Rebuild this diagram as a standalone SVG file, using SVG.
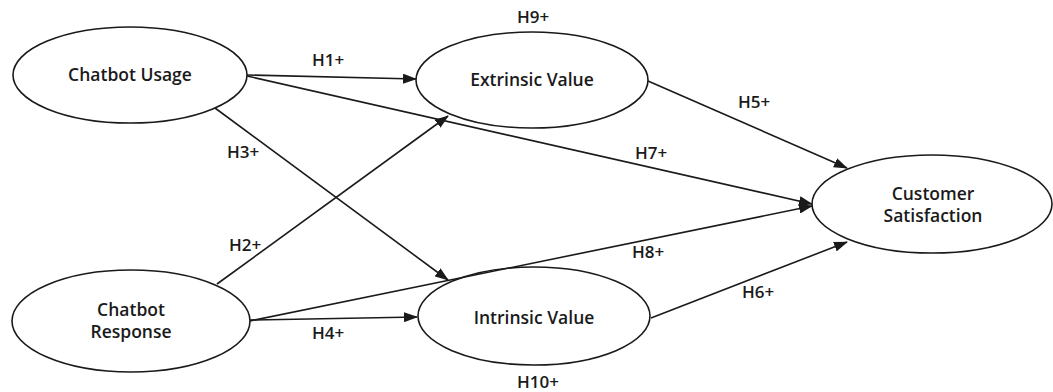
<svg xmlns="http://www.w3.org/2000/svg" width="1053" height="392" viewBox="0 0 1053 392">
<defs>
<style>
.node ellipse{fill:#fff;stroke:#1a1a1a;stroke-width:1.6}
.node text{font-family:"Open Sans","Liberation Sans",sans-serif;font-size:17.5px;font-weight:600;fill:#1a1a1a;text-anchor:middle}
.conn line{stroke:#1a1a1a;stroke-width:1.6;marker-end:url(#arr)}
.lbl text{font-family:"Open Sans","Liberation Sans",sans-serif;font-size:17px;font-weight:600;fill:#1a1a1a;text-anchor:middle}
</style>
<marker id="arr" markerUnits="userSpaceOnUse" markerWidth="14" markerHeight="10" refX="13" refY="5" orient="auto" viewBox="0 0 14 10">
<path d="M0,0 L14,5 L0,10 z" fill="#1a1a1a"/>
</marker>
</defs>
<rect width="1053" height="392" fill="#fff"/>
<g class="node" id="chatbot-usage">
<ellipse cx="130" cy="75" rx="117" ry="48"/>
<text x="130" y="81">Chatbot Usage</text>
</g>
<g class="node" id="extrinsic-value">
<ellipse cx="532" cy="80" rx="116" ry="48"/>
<text x="532" y="86">Extrinsic Value</text>
</g>
<g class="node" id="customer-satisfaction">
<ellipse cx="932" cy="204" rx="120" ry="49"/>
<text x="933" y="200">Customer</text>
<text x="933" y="222">Satisfaction</text>
</g>
<g class="node" id="chatbot-response">
<ellipse cx="131" cy="321" rx="119" ry="51"/>
<text x="131" y="316">Chatbot</text>
<text x="131" y="338">Response</text>
</g>
<g class="node" id="intrinsic-value">
<ellipse cx="534" cy="316" rx="116" ry="49"/>
<text x="534" y="324">Intrinsic Value</text>
</g>
<g class="conn" id="connectors">
<line x1="247" y1="75" x2="416" y2="79"/>
<line x1="247" y1="76" x2="812" y2="204"/>
<line x1="215" y1="108" x2="448" y2="280"/>
<line x1="217" y1="284" x2="448" y2="116"/>
<line x1="250" y1="320" x2="417" y2="317"/>
<line x1="250" y1="321" x2="812" y2="206"/>
<line x1="648" y1="81" x2="847" y2="168"/>
<line x1="651" y1="318" x2="847" y2="242"/>
</g>
<g class="lbl" id="labels">
<text x="533" y="23">H9+</text>
<text x="328" y="66">H1+</text>
<text x="754" y="108">H5+</text>
<text x="651" y="159">H7+</text>
<text x="243" y="158">H3+</text>
<text x="245" y="251">H2+</text>
<text x="648" y="258">H8+</text>
<text x="758" y="298">H6+</text>
<text x="328" y="339">H4+</text>
<text x="538" y="388">H10+</text>
</g>
</svg>
